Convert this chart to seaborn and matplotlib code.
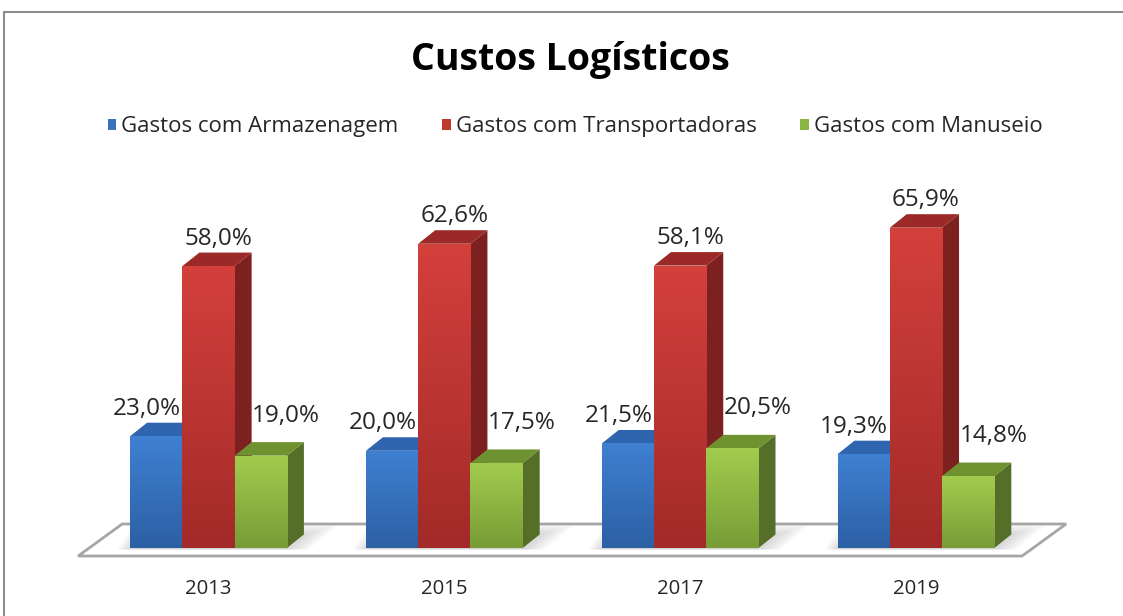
import numpy as np
import pandas as pd
import seaborn as sns
import matplotlib.pyplot as plt
from matplotlib.colors import LinearSegmentedColormap
from matplotlib.lines import Line2D
from matplotlib.patches import Patch, Polygon

sns.set_style("white")
plt.rcParams["font.family"] = ["Open Sans", "DejaVu Sans"]

years = ["2013", "2015", "2017", "2019"]
series = ["Gastos com Armazenagem", "Gastos com Transportadoras", "Gastos com Manuseio"]
armazenagem = [23.0, 20.0, 21.5, 19.3]
transportadoras = [58.0, 62.6, 58.1, 65.9]
manuseio = [19.0, 17.5, 20.5, 14.8]

df = pd.DataFrame({
    "ano": years * 3,
    "serie": [s for s in series for _ in years],
    "valor": armazenagem + transportadoras + manuseio,
})

# colours: front gradient (top, bottom), side face, top face, legend
front_top = ["#3f80d2", "#d4403c", "#a2cc4e"]
front_bot = ["#2c60a4", "#a22a28", "#789c36"]
side_col = ["#28548f", "#7c2020", "#566f28"]
top_col = ["#2f64ae", "#9b2927", "#6e9230"]
legend_col = ["#3a72be", "#c0392f", "#8cb440"]
# label offsets in points (x, y) per series
label_off = [(-13, 10), (1, 10), (12, 19)]

fig = plt.figure(figsize=(11.23, 6.16), dpi=100)
ax = fig.add_axes([0.0597, 0.1104, 0.8819, 0.647])

sns.barplot(data=df, x="ano", y="valor", hue="serie", order=years,
            hue_order=series, palette=front_top, width=0.665, saturation=1,
            legend=False, ax=ax)

# depth of the fake 3d boxes, in data units
ddx, ddy = 0.072, 2.78

for i, cont in enumerate(ax.containers):
    cmap = LinearSegmentedColormap.from_list("g%d" % i, [front_bot[i], front_top[i]])
    for bar in cont:
        x, w, h = bar.get_x(), bar.get_width(), bar.get_height()
        z = 10 + 3 * i
        bar.set_facecolor("none")
        bar.set_edgecolor("none")
        side = Polygon([(x + w, 0), (x + w + ddx, ddy), (x + w + ddx, h + ddy), (x + w, h)],
                       closed=True, facecolor=side_col[i], edgecolor="none", zorder=z, clip_on=False)
        top = Polygon([(x, h), (x + w, h), (x + w + ddx, h + ddy), (x + ddx, h + ddy)],
                      closed=True, facecolor=top_col[i], edgecolor="none", zorder=z + 1, clip_on=False)
        ax.add_patch(side)
        ax.add_patch(top)
        grad = np.linspace(1, 0, 256)[:, None]
        im = ax.imshow(grad, cmap=cmap, extent=[x, x + w, 0, h], aspect="auto",
                       interpolation="bilinear", zorder=z + 2)
        im.set_clip_path(bar)
        lbl = f"{h:.1f}".replace(".", ",") + "%"
        ax.annotate(lbl, xy=(x + w / 2 + ddx / 2, h + ddy), xytext=label_off[i],
                    textcoords="offset points", ha="center", va="center",
                    fontsize=17.5, color="#262626", zorder=30)

# floor plane
floor = Polygon([(-0.553, -1.65), (3.45, -1.65), (3.637, 4.94), (-0.366, 4.94)],
                closed=True, facecolor="white", edgecolor="#a6a6a6", linewidth=2,
                zorder=1, clip_on=False)
ax.add_patch(floor)

# soft shadow of each group on the floor
for j in range(len(years)):
    gx0 = ax.containers[0][j].get_x()
    gx1 = ax.containers[-1][j].get_x() + ax.containers[-1][j].get_width()
    for k in range(6):
        pad = 0.018 * k
        sh = Polygon([(gx0 - pad * 0.6, -0.3), (gx1 + pad, -0.3),
                      (gx1 + ddx + pad * 1.6, ddy + 0.4 * k), (gx0 + ddx - pad * 0.6, ddy + 0.4 * k)],
                     closed=True, facecolor="#7f7f7f", edgecolor="none", alpha=0.06,
                     zorder=2, clip_on=False)
        ax.add_patch(sh)

ax.set_xlim(-0.6, 3.6)
ax.set_ylim(0, 82)
ax.set_xlabel("")
ax.set_ylabel("")
ax.set_yticks([])
ax.tick_params(axis="x", length=0, pad=22, labelsize=14.7, labelcolor="#262626")
for s in ax.spines.values():
    s.set_visible(False)

fig.text(0.508, 0.9026, "Custos Logísticos", ha="center", va="center",
         fontsize=27, fontweight="bold", color="black")

handles = [Patch(facecolor=c, edgecolor="none") for c in legend_col]
fig.legend(handles, series, loc="center", bbox_to_anchor=(0.512, 0.794), ncol=3,
           frameon=False, fontsize=16, handlelength=0.4, handleheight=0.4,
           handletextpad=0.22, columnspacing=1.95, labelcolor="#262626")

# outer chart border (top and left only are in view)
fig.add_artist(Line2D([0.004, 1.0], [0.9805, 0.9805], color="#8c8c8c", lw=1.5))
fig.add_artist(Line2D([0.004, 0.004], [0.0, 0.9805], color="#8c8c8c", lw=1.5))

fig.savefig("out.png", dpi=100)
